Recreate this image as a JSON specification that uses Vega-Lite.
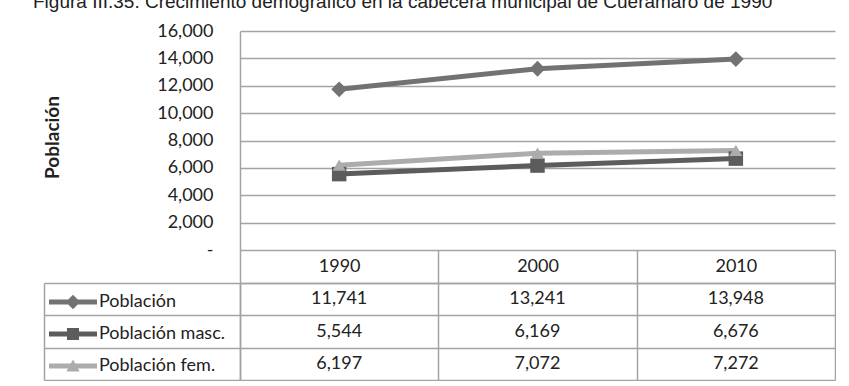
{
  "$schema": "https://vega.github.io/schema/vega-lite/v6.json",
  "padding": {"left": 33, "top": -7, "right": 0, "bottom": 0},
  "background": "white",
  "title": {
    "text": "Figura III.35. Crecimiento demográfico en la cabecera municipal de Cuerámaro de 1990",
    "anchor": "start",
    "font": "Liberation Sans",
    "fontSize": 19,
    "fontWeight": "normal",
    "color": "#222222",
    "offset": 10,
    "dx": -10
  },
  "datasets": {
    "pop": [
      {"series": "Población", "year": "1990", "value": 11741},
      {"series": "Población", "year": "2000", "value": 13241},
      {"series": "Población", "year": "2010", "value": 13948},
      {"series": "Población masc.", "year": "1990", "value": 5544},
      {"series": "Población masc.", "year": "2000", "value": 6169},
      {"series": "Población masc.", "year": "2010", "value": 6676},
      {"series": "Población fem.", "year": "1990", "value": 6197},
      {"series": "Población fem.", "year": "2000", "value": 7072},
      {"series": "Población fem.", "year": "2010", "value": 7272}
    ]
  },
  "bounds": "flush",
  "spacing": 33,
  "resolve": {
    "scale": {"color": "independent", "shape": "independent", "x": "independent", "y": "independent", "size": "independent"},
    "legend": {"color": "independent", "shape": "independent"}
  },
  "config": {"view": {"stroke": null}, "font": "Lato"},
  "vconcat": [
    {
      "width": 595,
      "height": 219,
      "data": {"name": "pop"},
      "encoding": {
        "x": {"field": "year", "type": "ordinal", "scale": {"type": "point", "padding": 0.5}, "axis": null},
        "y": {
          "field": "value", "type": "quantitative",
          "scale": {"domain": [0, 16000], "nice": false},
          "axis": {
            "values": [0, 2000, 4000, 6000, 8000, 10000, 12000, 14000, 16000],
            "tickCount": 12, "labelOverlap": false, "labelBound": false, "labelFlush": false,
            "grid": true, "gridColor": "#a3a3a3", "gridWidth": 1.5,
            "domain": true, "domainColor": "#a3a3a3", "domainWidth": 1.5,
            "ticks": false, "labelPadding": 27,
            "labelFont": "Lato", "labelFontSize": 18, "labelColor": "#222222",
            "labelExpr": "datum.value == 0 ? '-' : format(datum.value, ',')",
            "encode": {"labels": {"update": {"dx": {"signal": "datum.value == 0 ? -8 : 0"}}}},
            "title": "Población", "titleFont": "Lato", "titleFontSize": 19, "titleFontWeight": "bold",
            "titleColor": "#222222", "titleX": -188, "titleY": 106, "titleAngle": -90,
            "titleAlign": "center", "titleBaseline": "middle"
          }
        },
        "color": {
          "field": "series", "type": "nominal",
          "scale": {"domain": ["Población", "Población masc.", "Población fem."], "range": ["#727272", "#5c5c5c", "#acacac"]},
          "legend": null
        }
      },
      "layer": [
        {
          "mark": {"type": "line", "strokeWidth": 5}
        },
        {
          "mark": {"type": "point", "filled": true, "opacity": 1},
          "encoding": {
            "shape": {
              "field": "series", "type": "nominal",
              "scale": {"domain": ["Población", "Población masc.", "Población fem."], "range": ["diamond", "square", "triangle-up"]},
              "legend": null
            },
            "size": {
              "field": "series", "type": "nominal",
              "scale": {"domain": ["Población", "Población masc.", "Población fem."], "range": [250, 170, 190]},
              "legend": null
            }
          }
        }
      ]
    },
    {
      "width": 595,
      "height": 97,
      "data": {"name": "pop"},
      "layer": [
        {
          "mark": {"type": "text", "font": "Lato", "fontSize": 18, "color": "#222222"},
          "encoding": {
            "x": {
              "field": "year", "type": "ordinal",
              "scale": {"type": "band", "paddingInner": 0, "paddingOuter": 0},
              "axis": {
                "orient": "top", "title": null, "tickBand": "extent", "tickSize": 33,
                "tickColor": "#a3a3a3", "tickWidth": 1.5,
                "grid": true, "gridColor": "#a3a3a3", "gridWidth": 1.5,
                "domain": true, "domainColor": "#a3a3a3", "domainWidth": 1.5,
                "labelAngle": 0, "labelAlign": "center", "labelBaseline": "middle", "labelPadding": -16.5,
                "labelFont": "Lato", "labelFontSize": 18, "labelColor": "#222222"
              }
            },
            "y": {
              "field": "series", "type": "nominal",
              "sort": ["Población", "Población masc.", "Población fem."],
              "scale": {"type": "band", "paddingInner": 0, "paddingOuter": 0},
              "axis": {
                "title": null, "labels": false, "tickBand": "extent", "tickSize": 196,
                "tickColor": "#a3a3a3", "tickWidth": 1.5,
                "grid": true, "gridColor": "#a3a3a3", "gridWidth": 1.5,
                "domain": true, "domainColor": "#a3a3a3", "domainWidth": 1.5
              }
            },
            "text": {"field": "value", "type": "quantitative", "format": ","}
          }
        },
        {
          "mark": {"type": "point", "filled": true, "opacity": 0},
          "encoding": {
            "x": {"field": "year", "type": "ordinal"},
            "y": {
              "field": "series", "type": "nominal",
              "sort": ["Población", "Población masc.", "Población fem."],
              "axis": {
                "orient": "left", "offset": 196, "title": null, "labels": false, "ticks": false, "grid": false,
                "domain": true, "domainColor": "#a3a3a3", "domainWidth": 1.5
              }
            },
            "color": {
              "field": "series", "type": "nominal",
              "scale": {"domain": ["Población", "Población masc.", "Población fem."], "range": ["#727272", "#5c5c5c", "#acacac"]},
              "legend": {
                "orient": "none", "legendX": -176, "legendY": 10, "title": null,
                "symbolSize": 144, "symbolStrokeWidth": 0, "symbolOpacity": 1,
                "labelFont": "Lato", "labelFontSize": 18, "labelColor": "#222222",
                "labelOffset": 17, "rowPadding": 14, "padding": 0
              }
            },
            "shape": {
              "field": "series", "type": "nominal",
              "scale": {
                "domain": ["Población", "Población masc.", "Población fem."],
                "range": [
                  "M-4,-0.4H4V0.4H-4ZM0,-1.2L1.2,0L0,1.2L-1.2,0Z",
                  "M-4,-0.4H4V0.4H-4ZM-1,-1H1V1H-1Z",
                  "M-4,-0.4H4V0.4H-4ZM0,-1.1L1.1,0.9H-1.1Z"
                ]
              },
              "legend": {
                "orient": "none", "legendX": -176, "legendY": 10, "title": null,
                "symbolSize": 144, "symbolStrokeWidth": 0, "symbolOpacity": 1,
                "labelFont": "Lato", "labelFontSize": 18, "labelColor": "#222222",
                "labelOffset": 17, "rowPadding": 14, "padding": 0
              }
            }
          }
        }
      ],
      "resolve": {"axis": {"y": "independent"}}
    }
  ]
}
